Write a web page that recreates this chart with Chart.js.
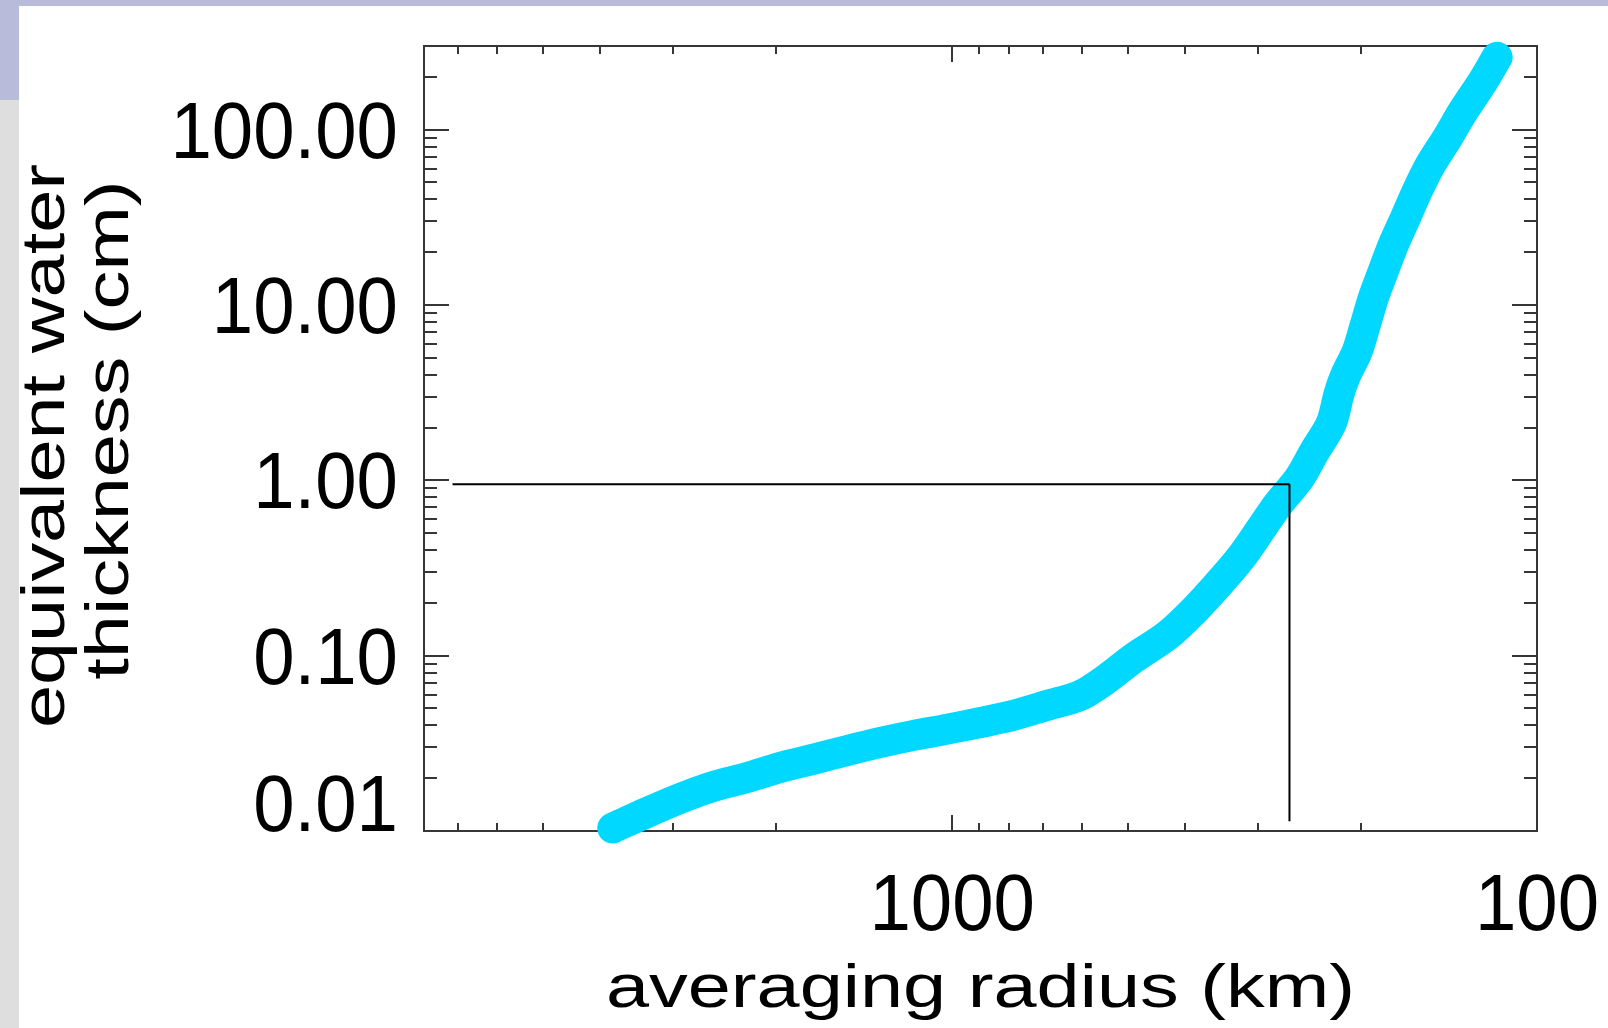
<!DOCTYPE html>
<html>
<head>
<meta charset="utf-8">
<script src="https://cdn.jsdelivr.net/npm/chart.js@4.4.1/dist/chart.umd.min.js"></script>
<style>
  html, body { margin: 0; padding: 0; background: #ffffff; }
  body { width: 1608px; height: 1028px; position: relative; overflow: hidden; }
  .band-top { position: absolute; left: 0; top: 0; width: 1608px; height: 6px; background: #b8bbda; }
  .band-left { position: absolute; left: 0; top: 0; width: 19px; height: 100px; background: #b8bbda; }
  .strip-left { position: absolute; left: 0; top: 100px; width: 19px; height: 928px; background: #dedede; }
  #plot { position: absolute; left: 0; top: 0; }
</style>
</head>
<body>
<div class="band-top"></div>
<div class="band-left"></div>
<div class="strip-left"></div>
<canvas id="plot" width="1608" height="1028"></canvas>
<script>
// data (radius in km, thickness in cm)
const radiusKm = [3805, 3316, 2909, 2555, 2238, 1963, 1724, 1510, 1325, 1163,
  1019, 894, 785, 688, 603, 543, 490, 428.5, 387, 352,
  321.5, 296, 278, 255, 240, 224.8, 217.9, 212.8, 203, 196.7,
  190.6, 183.2, 176.2, 168, 160.3, 152.3, 142.4, 133.8, 123.7, 117];
const thicknessCm = [0.0104, 0.0128, 0.0154, 0.0180, 0.0202, 0.0231, 0.0257, 0.0288, 0.0320, 0.0351,
  0.0381, 0.0416, 0.0457, 0.0521, 0.0594, 0.0742, 0.0965, 0.1305, 0.179, 0.252,
  0.359, 0.532, 0.720, 1.027, 1.464, 2.114, 3.135, 3.920, 5.444, 7.659,
  10.92, 15.57, 21.91, 31.23, 44.52, 62.65, 89.31, 127.3, 188.9, 258.8];

// the two guide lines
const guideX = [7150, 265];
const guideY = [0.949, 0.01135];

// axis ticks
const xRange = [100, 8000];
const yRange = [0.01, 300];
const xMajor = [1000, 100];
const xLabels = ['1000', '100'];
const xMinor = [200, 300, 400, 500, 600, 700, 800, 900, 2000, 3000, 4000, 5000, 6000, 7000, 8000];
const yMajor = [0.01, 0.1, 1, 10, 100];
const yLabels = ['0.01', '0.10', '1.00', '10.00', '100.00'];
const yMinor = [0.02, 0.03, 0.04, 0.05, 0.06, 0.07, 0.08, 0.09,
  0.2, 0.3, 0.4, 0.5, 0.6, 0.7, 0.8, 0.9,
  2, 3, 4, 5, 6, 7, 8, 9,
  20, 30, 40, 50, 60, 70, 80, 90, 200, 300];

const xTitle = 'averaging radius (km)';
const yTitle = ['equivalent water', 'thickness (cm)'];

const FONT = '"Liberation Sans", Arial, Helvetica, sans-serif';

// text with a horizontal stretch, so it looks like the IDL font
function drawText(ctx, str, x, y, size, sx, align, angle) {
  ctx.save();
  ctx.translate(x, y);
  if (angle) ctx.rotate(angle);
  ctx.scale(sx, 1);
  ctx.font = size + 'px ' + FONT;
  ctx.fillStyle = '#000';
  ctx.textAlign = align;
  ctx.textBaseline = 'alphabetic';
  ctx.fillText(str, 0, 0);
  ctx.restore();
}

// box frame with inward ticks on all four sides
const boxAxes = {
  id: 'boxAxes',
  beforeDatasetsDraw(chart) {
    const { ctx, chartArea: a, scales: { x, y } } = chart;
    ctx.save();
    ctx.strokeStyle = '#363636';
    ctx.lineWidth = 2;
    ctx.strokeRect(a.left, a.top, a.right - a.left, a.bottom - a.top);

    ctx.beginPath();
    const xTick = (v, len) => {
      const px = Math.round(x.getPixelForValue(v));
      ctx.moveTo(px, a.bottom); ctx.lineTo(px, a.bottom - len);
      ctx.moveTo(px, a.top); ctx.lineTo(px, a.top + len);
    };
    const yTick = (v, len) => {
      const py = Math.round(y.getPixelForValue(v));
      ctx.moveTo(a.left, py); ctx.lineTo(a.left + len, py);
      ctx.moveTo(a.right, py); ctx.lineTo(a.right - len, py);
    };
    xMajor.forEach(v => xTick(v, 16));
    xMinor.forEach(v => xTick(v, 8));
    yMajor.forEach(v => yTick(v, 25));
    yMinor.forEach(v => yTick(v, 13));
    ctx.stroke();
    ctx.restore();
  },
  afterDraw(chart) {
    const { ctx, chartArea: a, scales: { x, y } } = chart;
    // y tick labels, the lowest one sits on the axis
    yMajor.forEach((v, i) => {
      let base = y.getPixelForValue(v) + 28;
      if (base > a.bottom) base = a.bottom;
      drawText(ctx, yLabels[i], 398, base, 80, 0.93, 'right');
    });
    // x tick labels
    xMajor.forEach((v, i) => {
      drawText(ctx, xLabels[i], x.getPixelForValue(v), 930, 80, 0.93, 'center');
    });
    // titles
    drawText(ctx, xTitle, (a.left + a.right) / 2, 1007, 61, 1.27, 'center');
    drawText(ctx, yTitle[0], 64, 446, 61, 1.27, 'center', -Math.PI / 2);
    drawText(ctx, yTitle[1], 128, 430, 61, 1.27, 'center', -Math.PI / 2);
  }
};

const ctx = document.getElementById('plot').getContext('2d');
const myChart = new Chart(ctx, {
  type: 'scatter',
  data: {
    datasets: [
      {
        label: 'guide h',
        data: [{ x: guideX[0], y: guideY[0] }, { x: guideX[1], y: guideY[0] }],
        showLine: true,
        borderColor: '#000',
        borderWidth: 2,
        pointRadius: 0,
        order: 0
      },
      {
        label: 'guide v',
        data: [{ x: guideX[1], y: guideY[0] }, { x: guideX[1], y: guideY[1] }],
        showLine: true,
        borderColor: '#000',
        borderWidth: 2,
        pointRadius: 0,
        order: 0
      },
      {
        label: 'thickness',
        data: radiusKm.map((r, i) => ({ x: r, y: thicknessCm[i] })),
        showLine: true,
        borderColor: '#00d8ff',
        borderWidth: 31,
        borderCapStyle: 'round',
        borderJoinStyle: 'round',
        pointRadius: 0,
        tension: 0.3,
        clip: false,
        order: 1
      }
    ]
  },
  options: {
    responsive: false,
    animation: false,
    devicePixelRatio: 1,
    layout: { padding: { left: 424, top: 46, right: 71, bottom: 197 } },
    plugins: { legend: { display: false }, tooltip: { enabled: false } },
    scales: {
      x: { type: 'logarithmic', min: xRange[0], max: xRange[1], reverse: true, display: false },
      y: { type: 'logarithmic', min: yRange[0], max: yRange[1], display: false }
    }
  },
  plugins: [boxAxes]
});
</script>
</body>
</html>
